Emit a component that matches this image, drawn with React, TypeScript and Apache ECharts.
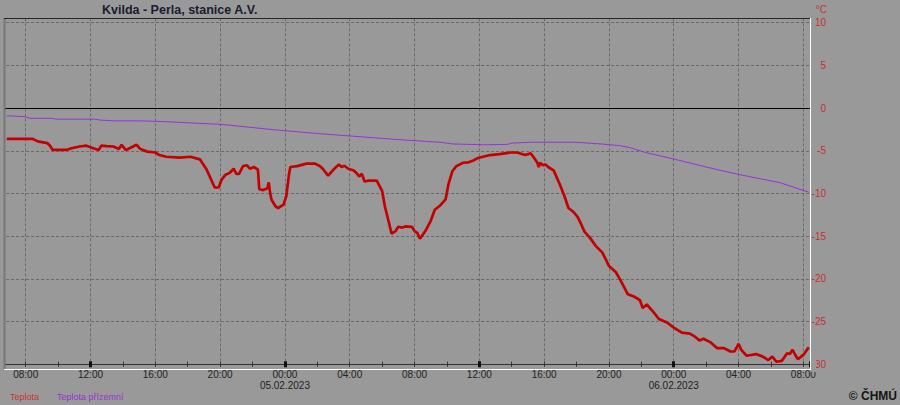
import React, { useEffect, useRef } from "react";
import * as echarts from "echarts";

const BG = "#999999";
const TITLE = "Kvilda - Perla, stanice A.V.";
const UNIT = "°C";
const SERIES_NAMES = ["Teplota", "Teplota přízemní"];
const COPYRIGHT = "© ČHMÚ";

// Teplota (air temperature)
const tempTimes = [
  "2023-02-04 06:50", "2023-02-04 08:25", "2023-02-04 08:45", "2023-02-04 09:20", "2023-02-04 09:30",
  "2023-02-04 09:40", "2023-02-04 10:30", "2023-02-04 10:50", "2023-02-04 11:20", "2023-02-04 11:45",
  "2023-02-04 12:10", "2023-02-04 12:30", "2023-02-04 12:40", "2023-02-04 13:00", "2023-02-04 13:25",
  "2023-02-04 13:45", "2023-02-04 13:55", "2023-02-04 14:10", "2023-02-04 14:25", "2023-02-04 14:50",
  "2023-02-04 15:05", "2023-02-04 15:30", "2023-02-04 16:00", "2023-02-04 16:15", "2023-02-04 16:40",
  "2023-02-04 17:30", "2023-02-04 18:10", "2023-02-04 18:45", "2023-02-04 19:10", "2023-02-04 19:40",
  "2023-02-04 19:55", "2023-02-04 20:05", "2023-02-04 20:20", "2023-02-04 20:35", "2023-02-04 20:50",
  "2023-02-04 21:00", "2023-02-04 21:10", "2023-02-04 21:25", "2023-02-04 21:40", "2023-02-04 21:50",
  "2023-02-04 22:05", "2023-02-04 22:20", "2023-02-04 22:25", "2023-02-04 22:40", "2023-02-04 22:55",
  "2023-02-04 23:00", "2023-02-04 23:05", "2023-02-04 23:10", "2023-02-04 23:25", "2023-02-04 23:35",
  "2023-02-04 23:55",
  "2023-02-05 00:05", "2023-02-05 00:15", "2023-02-05 00:20", "2023-02-05 00:45", "2023-02-05 01:20",
  "2023-02-05 01:50", "2023-02-05 02:10", "2023-02-05 02:20", "2023-02-05 02:40", "2023-02-05 03:00",
  "2023-02-05 03:20", "2023-02-05 03:30", "2023-02-05 03:40", "2023-02-05 03:55", "2023-02-05 04:15",
  "2023-02-05 04:25", "2023-02-05 04:35", "2023-02-05 04:45", "2023-02-05 04:55", "2023-02-05 05:10",
  "2023-02-05 05:40", "2023-02-05 06:00", "2023-02-05 06:10", "2023-02-05 06:25", "2023-02-05 06:35",
  "2023-02-05 06:50", "2023-02-05 07:00", "2023-02-05 07:15", "2023-02-05 07:25", "2023-02-05 07:50",
  "2023-02-05 08:00", "2023-02-05 08:10", "2023-02-05 08:20", "2023-02-05 08:40", "2023-02-05 09:00",
  "2023-02-05 09:15", "2023-02-05 09:35", "2023-02-05 09:55", "2023-02-05 10:05", "2023-02-05 10:20",
  "2023-02-05 10:35", "2023-02-05 11:00", "2023-02-05 11:20", "2023-02-05 11:40", "2023-02-05 11:55",
  "2023-02-05 12:40", "2023-02-05 13:15", "2023-02-05 13:55", "2023-02-05 14:20", "2023-02-05 14:50",
  "2023-02-05 15:10", "2023-02-05 15:20", "2023-02-05 15:35", "2023-02-05 15:40", "2023-02-05 15:45",
  "2023-02-05 15:55", "2023-02-05 16:05", "2023-02-05 16:15", "2023-02-05 16:35", "2023-02-05 16:45",
  "2023-02-05 17:00", "2023-02-05 17:15", "2023-02-05 17:30", "2023-02-05 17:50", "2023-02-05 18:05",
  "2023-02-05 18:20", "2023-02-05 18:30", "2023-02-05 18:50", "2023-02-05 19:10", "2023-02-05 19:35",
  "2023-02-05 19:45", "2023-02-05 20:00", "2023-02-05 20:25", "2023-02-05 20:40", "2023-02-05 21:00",
  "2023-02-05 21:10", "2023-02-05 21:35", "2023-02-05 21:55", "2023-02-05 22:05", "2023-02-05 22:20",
  "2023-02-05 22:45", "2023-02-05 23:05", "2023-02-05 23:35",
  "2023-02-06 00:00", "2023-02-06 00:30", "2023-02-06 01:00", "2023-02-06 01:20", "2023-02-06 01:35",
  "2023-02-06 01:50", "2023-02-06 02:15", "2023-02-06 02:40", "2023-02-06 03:05", "2023-02-06 03:30",
  "2023-02-06 03:45", "2023-02-06 04:00", "2023-02-06 04:10", "2023-02-06 04:30", "2023-02-06 05:05",
  "2023-02-06 05:30", "2023-02-06 05:50", "2023-02-06 06:05", "2023-02-06 06:20", "2023-02-06 06:40",
  "2023-02-06 07:00", "2023-02-06 07:10", "2023-02-06 07:20", "2023-02-06 07:30", "2023-02-06 07:40",
  "2023-02-06 08:00", "2023-02-06 08:20",
];
const tempValues = [
  -3.6, -3.6, -3.9, -4.1, -4.4,
  -4.9, -4.9, -4.7, -4.5, -4.4,
  -4.7, -4.9, -4.4, -4.45, -4.5,
  -4.8, -4.3, -4.9, -4.7, -4.3,
  -4.8, -5.1, -5.2, -5.5, -5.7,
  -5.8, -5.7, -6.0, -7.2, -9.3,
  -9.3, -8.4, -7.8, -7.6, -7.1,
  -7.7, -7.7, -6.8, -6.7, -7.1,
  -6.9, -7.2, -9.5, -9.6, -9.4,
  -8.7, -9.9, -10.7, -11.5, -11.7,
  -11.3,
  -10.3, -7.8, -6.9, -6.8, -6.5,
  -6.5, -6.8, -7.1, -7.9, -7.2,
  -6.6, -6.9, -6.75, -7.1, -7.3,
  -7.6, -8.0, -7.7, -8.6, -8.5,
  -8.5, -9.7, -11.5, -13.4, -14.7,
  -14.4, -13.9, -14.0, -13.85, -13.9,
  -14.4, -14.6, -15.3, -14.4, -13.2,
  -11.9, -11.4, -10.7, -9.0, -7.4,
  -6.8, -6.4, -6.35, -6.1, -5.85,
  -5.5, -5.4, -5.2, -5.2, -5.5,
  -5.3, -5.7, -6.4, -6.9, -6.4,
  -6.7, -6.6, -6.9, -7.3, -8.0,
  -9.1, -10.3, -11.7, -12.2, -12.8,
  -13.8, -14.5, -15.2, -16.1, -16.9,
  -17.5, -18.5, -19.2, -20.0, -21.2,
  -21.8, -22.1, -22.5, -23.4, -23.0,
  -23.9, -24.7, -25.1,
  -25.7, -26.3, -26.4, -26.8, -27.2,
  -27.0, -27.4, -28.1, -28.1, -28.5,
  -28.5, -27.6, -28.3, -29.0, -28.8,
  -29.1, -29.5, -29.1, -29.7, -29.6,
  -28.7, -28.8, -28.3, -28.9, -29.4,
  -28.9, -28.0,
];

// Teplota přízemní (ground temperature)
const groundTimes = [
  "2023-02-04 06:50", "2023-02-04 07:55", "2023-02-04 08:15", "2023-02-04 09:40", "2023-02-04 09:50",
  "2023-02-04 12:15", "2023-02-04 12:35", "2023-02-04 13:25", "2023-02-04 15:05", "2023-02-04 16:00",
  "2023-02-04 16:40", "2023-02-04 20:00", "2023-02-04 23:40",
  "2023-02-05 02:10", "2023-02-05 04:15", "2023-02-05 07:05", "2023-02-05 09:35", "2023-02-05 10:20",
  "2023-02-05 12:20", "2023-02-05 13:45", "2023-02-05 14:00", "2023-02-05 15:10", "2023-02-05 17:55",
  "2023-02-05 19:30", "2023-02-05 20:40", "2023-02-05 21:20", "2023-02-05 22:15",
  "2023-02-06 00:05", "2023-02-06 01:35", "2023-02-06 02:40", "2023-02-06 04:05", "2023-02-06 06:35",
  "2023-02-06 08:20",
];
const groundValues = [
  -0.9, -1.0, -1.2, -1.2, -1.3,
  -1.3, -1.4, -1.5, -1.5, -1.55,
  -1.6, -1.9, -2.6,
  -3.0, -3.3, -3.7, -4.0, -4.2,
  -4.3, -4.25, -4.1, -4.0, -4.0,
  -4.2, -4.4, -4.65, -5.2,
  -6.0, -6.7, -7.2, -7.8, -8.75,
  -9.85,
];

// axis ranges (hours since 04.02.2023 00:00, °C)
const X_MIN = 0;
const X_MAX = 56.41;
const X_VISIBLE_FROM = 6.72; // left edge of the plot frame
const Y_MIN = -30;
const Y_MAX = 10.5;

function toHours(s: string): number {
  const day = parseInt(s.slice(8, 10), 10);
  const h = parseInt(s.slice(11, 13), 10);
  const m = parseInt(s.slice(14, 16), 10);
  return (day - 4) * 24 + h + m / 60;
}

const pad = (n: number) => (n < 10 ? "0" + n : "" + n);

function xLabel(v: number): string {
  if (v < X_VISIBLE_FROM) return "";
  if (Math.abs(v - Math.round(v)) > 1e-6 || Math.round(v) % 4 !== 0) return "";
  const hv = Math.round(v);
  const hour = hv % 24;
  const day = 4 + Math.floor(hv / 24);
  let s = pad(hour) + ":00";
  if (hour === 0) s += "\n" + pad(day) + ".02.2023";
  return s;
}

function yLabel(v: number): string {
  if (Math.abs(v % 5) > 1e-6) return "";
  return String(v);
}

const FONT = "'Liberation Sans', Arial, sans-serif";

export default function App() {
  const ref = useRef<HTMLDivElement>(null);
  useEffect(() => {
    if (!ref.current) return;
    const chart = echarts.init(ref.current, null, { renderer: "svg" });
    const red = tempTimes.map((t, i) => [toHours(t), tempValues[i]]);
    const purple = groundTimes.map((t, i) => [toHours(t), groundValues[i]]);
    const dashed = { color: "#6a6a6a", type: [3, 2] as any, width: 1 };
    const tickAxisBase = {
      type: "value" as const,
      min: X_MIN,
      max: X_MAX,
      position: "bottom" as const,
      axisLine: { show: false, onZero: false },
      axisLabel: { show: false },
      splitLine: { show: false },
    };
    chart.setOption({
      animation: false,
      backgroundColor: BG,
      textStyle: { fontFamily: FONT },
      grid: {
        left: -103.9, right: 90, top: 18.4, bottom: 40.7,
        containLabel: false, outerBoundsMode: "none",
      } as any,
      xAxis: [
        {
          type: "value",
          min: X_MIN,
          max: X_MAX,
          interval: 4,
          position: "bottom",
          axisLine: { show: true, onZero: false, lineStyle: { color: "#333", width: 1 } },
          axisTick: { show: false },
          axisLabel: {
            formatter: xLabel,
            color: "#222",
            fontSize: 10,
            fontFamily: FONT,
            margin: 5,
            lineHeight: 11,
          },
          splitLine: { show: true, lineStyle: dashed },
        },
        {
          ...tickAxisBase,
          interval: 2,
          offset: -2.5,
          axisTick: { show: true, length: 5, lineStyle: { color: "#333", width: 1 } },
        },
        {
          ...tickAxisBase,
          interval: 12,
          offset: -3,
          axisTick: { show: true, length: 6, lineStyle: { color: "#111", width: 3 } },
        },
      ],
      yAxis: {
        type: "value",
        min: Y_MIN,
        max: Y_MAX,
        interval: 5,
        position: "right",
        axisLine: { show: false },
        axisTick: { show: false },
        axisLabel: {
          formatter: yLabel,
          color: "#c83030",
          fontSize: 10,
          fontFamily: FONT,
          align: "right",
          margin: 16,
        },
        splitLine: { show: true, lineStyle: dashed },
      },
      series: [
        {
          name: SERIES_NAMES[0],
          type: "line",
          data: red,
          showSymbol: false,
          symbol: "none",
          lineStyle: { color: "#c40000", width: 2.7 },
          itemStyle: { color: "#c40000" },
          z: 3,
          markLine: {
            silent: true,
            symbol: ["none", "none"],
            label: { show: false },
            lineStyle: { color: "#000", type: "solid", width: 1 },
            data: [{ yAxis: 0 }],
          },
        },
        {
          name: SERIES_NAMES[1],
          type: "line",
          data: purple,
          showSymbol: false,
          symbol: "none",
          lineStyle: { color: "#9a30d8", width: 1 },
          itemStyle: { color: "#9a30d8" },
          z: 4,
        },
      ],
      graphic: [
        { type: "rect", shape: { x: 0, y: 12, width: 4, height: 362 }, style: { fill: BG }, z: 100 },
        { type: "rect", shape: { x: 811, y: 356, width: 5, height: 16 }, style: { fill: BG }, z: 100 },
        { type: "line", shape: { x1: 4.5, y1: 18, x2: 4.5, y2: 370 }, style: { stroke: "#787878", lineWidth: 2 }, z: 101 },
        { type: "line", shape: { x1: 4, y1: 18.5, x2: 810, y2: 18.5 }, style: { stroke: "#262626", lineWidth: 1 }, z: 101 },
        { type: "line", shape: { x1: 810.5, y1: 18, x2: 810.5, y2: 370 }, style: { stroke: "#ffffff", lineWidth: 1 }, z: 101 },
        { type: "line", shape: { x1: 4, y1: 369.5, x2: 811, y2: 369.5 }, style: { stroke: "#ffffff", lineWidth: 1 }, z: 101 },
        {
          type: "text", x: 102, y: 10, z: 102,
          style: { text: TITLE, fill: "#1c1c30", font: "bold 12.5px " + FONT, textAlign: "left", textVerticalAlign: "middle" },
        },
        {
          type: "text", x: 827, y: 9, z: 102,
          style: { text: UNIT, fill: "#c83030", font: "10px " + FONT, textAlign: "right", textVerticalAlign: "middle" },
        },
        {
          type: "text", x: 10, y: 397, z: 102,
          style: { text: SERIES_NAMES[0], fill: "#d03030", font: "9px " + FONT, textAlign: "left", textVerticalAlign: "middle" },
        },
        {
          type: "text", x: 57, y: 397, z: 102,
          style: { text: SERIES_NAMES[1], fill: "#9a30d8", font: "9px " + FONT, textAlign: "left", textVerticalAlign: "middle" },
        },
        {
          type: "text", x: 897, y: 396, z: 102,
          style: { text: COPYRIGHT, fill: "#141414", font: "bold 12px " + FONT, textAlign: "right", textVerticalAlign: "middle" },
        },
      ],
    });
    return () => chart.dispose();
  }, []);
  return (
    <div
      ref={ref}
      style={{ position: "fixed", left: 0, top: 0, width: 900, height: 405, background: BG }}
    />
  );
}
